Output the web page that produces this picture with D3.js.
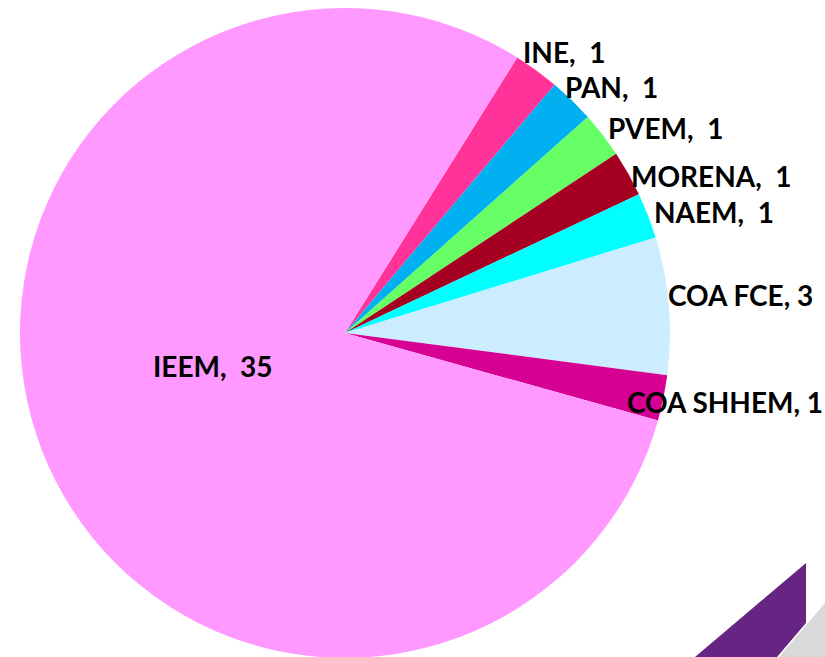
<!DOCTYPE html>
<html><head><meta charset="utf-8">
<script src="https://cdn.jsdelivr.net/npm/d3@7"></script>
<style>html,body{margin:0;padding:0;background:#fff;overflow:hidden}</style>
</head><body>
<svg id="c" width="825" height="657"></svg>
<script>
const categories = ["INE", "PAN", "PVEM", "MORENA", "NAEM", "COA FCE", "COA SHHEM", "IEEM"];
const values = [1, 1, 1, 1, 1, 3, 1, 35];
const labels = ["INE,  1", "PAN,  1", "PVEM,  1", "MORENA,  1", "NAEM,  1", "COA FCE, 3", "COA SHHEM, 1", "IEEM,  35"];
const colors = ["#FF3399", "#00B0F0", "#66FF66", "#A50021", "#00FFFF", "#CCECFF", "#D60093", "#FF99FF"];
// label anchor positions (left x, baseline y) in pixels
const labelPos = [[523,63],[565,98],[608,139],[631,187],[654,223],[668,306],[627,413],[153,377]];

const svg = d3.select("#c");
const cx = 345, cy = 333, R = 325;

// decoration bottom-right
svg.append("path").attr("d","M825,603 L825,657 L779,657 Z").attr("fill","#D9D9D9");
svg.append("path").attr("d","M806,563 L806,623 L777,657 L695,657 Z").attr("fill","#662483");

const data = categories.map((c,i)=>({c, v: values[i], i}));
const pie = d3.pie().value(d=>d.v).sort(null).startAngle(32*Math.PI/180).endAngle(32*Math.PI/180 + 2*Math.PI);
const arc = d3.arc().innerRadius(0).outerRadius(R);
const g = svg.insert("g", ":first-child").attr("transform",`translate(${cx},${cy})`);
g.selectAll("path").data(pie(data)).join("path")
  .attr("d", arc).attr("fill", d=>colors[d.data.i]);

svg.selectAll("text.lbl").data(data).join("text").attr("class","lbl")
  .attr("x", d=>labelPos[d.i][0]).attr("y", d=>labelPos[d.i][1])
  .attr("font-family","Lato, 'Open Sans', sans-serif").attr("font-weight","bold")
  .attr("font-size", 28).attr("fill","#000")
  .style("white-space","pre")
  .text(d=>labels[d.i]);
</script>
</body></html>
